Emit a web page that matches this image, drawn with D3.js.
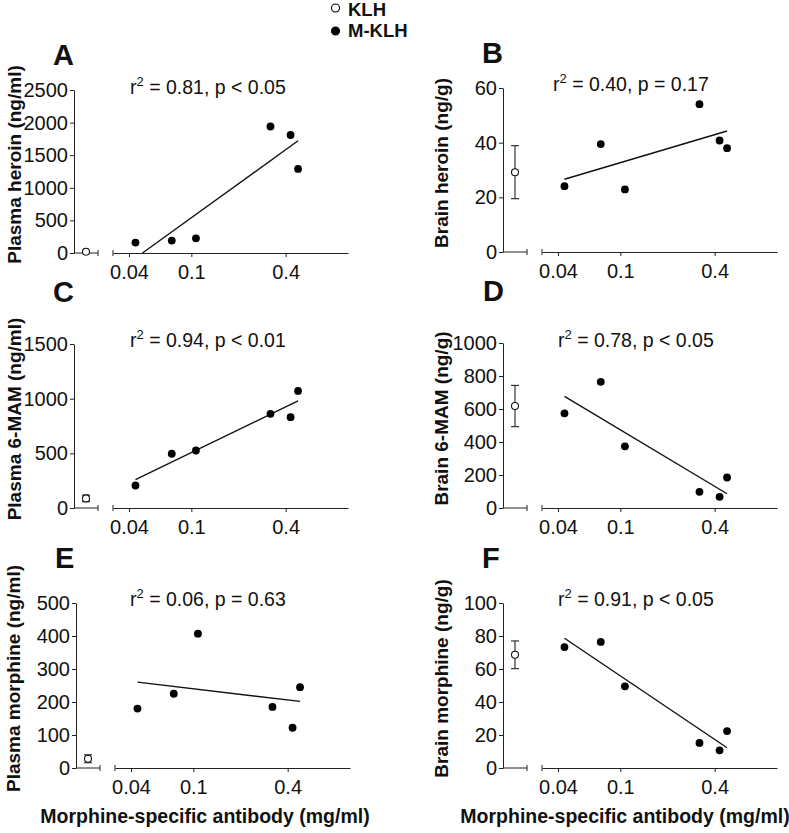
<!DOCTYPE html>
<html>
<head>
<meta charset="utf-8">
<script src="https://cdn.jsdelivr.net/npm/d3@7"></script>
<style>
body { margin: 0; background: #fff; }
svg text { font-family: "Liberation Sans", Arial, Helvetica, sans-serif; fill: #111; }
</style>
</head>
<body>
<svg id="fig" width="789" height="833"></svg>
<script>
// antibody level of each M-KLH rat (mg/ml), same 6 animals in every panel
var antibody = [0.044, 0.075, 0.107, 0.32, 0.43, 0.48]

var plasmaHeroin   = [160, 190, 225, 1940, 1810, 1290]
var brainHeroin    = [24.1, 39.5, 22.9, 54.1, 40.8, 38.0]
var plasma6MAM     = [206, 496, 526, 861, 831, 1071]
var brain6MAM      = [574, 765, 374, 98, 68, 185]
var plasmaMorphine = [180, 225, 407, 185, 122, 245]
var brainMorphine  = [73.3, 76.4, 49.5, 15.2, 10.7, 22.4]

// KLH control group, mean and SEM (A..F)
var klhMean = [20, 29.2, 88, 618, 28, 68.6]
var klhErr  = [0, 9.7, 30, 125, 12, 8.4]

var yTicks = [
    [0, 500, 1000, 1500, 2000, 2500],
    [0, 20, 40, 60],
    [0, 500, 1000, 1500],
    [0, 200, 400, 600, 800, 1000],
    [0, 100, 200, 300, 400, 500],
    [0, 20, 40, 60, 80, 100]
]
var yLabels = ["Plasma heroin (ng/ml)", "Brain heroin (ng/g)", "Plasma 6-MAM (ng/ml)",
    "Brain 6-MAM (ng/g)", "Plasma morphine (ng/ml)", "Brain morphine (ng/g)"]
var letters = ["A", "B", "C", "D", "E", "F"]
var rSquared = ["0.81", "0.40", "0.94", "0.78", "0.06", "0.91"]
var pText = ["p < 0.05", "p = 0.17", "p < 0.01", "p < 0.05", "p = 0.63", "p < 0.05"]
var xTicks = [0.04, 0.1, 0.4]
var xLabel = "Morphine-specific antibody (mg/ml)"
var legendKeys = ["KLH", "M-KLH"]

var series = [plasmaHeroin, brainHeroin, plasma6MAM, brain6MAM, plasmaMorphine, brainMorphine]

// where each panel sits on the page
var layout = [
    {ax: 74,  top: 90,  bottom: 253, letter: [53, 65],   stat: [130, 94],  lab: 21},
    {ax: 503, top: 88,  bottom: 252, letter: [482, 63],  stat: [553, 91],  lab: 448},
    {ax: 74,  top: 344, bottom: 508, letter: [53, 302],  stat: [130, 347], lab: 21},
    {ax: 503, top: 343, bottom: 508, letter: [483, 301], stat: [558, 347], lab: 448},
    {ax: 76,  top: 603, bottom: 768, letter: [55, 568],  stat: [130, 606], lab: 20},
    {ax: 503, top: 603, bottom: 768, letter: [482, 568], stat: [558, 606], lab: 448}
]

var svg = d3.select("#fig")
var ink = "#222"

// least squares of y on log10(x)
function fit(xs, ys) {
    var lx = xs.map(Math.log10)
    var mx = d3.mean(lx), my = d3.mean(ys)
    var sxy = d3.sum(lx, (v, i) => (v - mx) * (ys[i] - my))
    var sxx = d3.sum(lx, v => (v - mx) * (v - mx))
    var b = sxy / sxx
    return {f: v => my + b * (Math.log10(v) - mx), x0: Math.pow(10, mx - my / b)}
}

layout.forEach(function(L, i) {
    var g = svg.append("g")

    var y = d3.scaleLinear()
        .domain([0, d3.max(yTicks[i])])
        .range([L.bottom, L.top])

    var x = d3.scaleLog()
        .domain([Math.pow(10, -1.5), 1])
        .range([L.ax + 39, L.ax + 274])

    var klhX = d3.scalePoint()
        .domain(["KLH"])
        .range([L.ax, L.ax + 24])
        .padding(0.5)

    // y axis
    var yAxis = g.append("g")
        .attr("transform", "translate(" + L.ax + ",0)")
        .call(d3.axisLeft(y).tickValues(yTicks[i]).tickFormat(d3.format("d"))
            .tickSize(4).tickPadding(2).tickSizeOuter(0))
    yAxis.selectAll("text").style("font-size", "20px")

    // short KLH segment
    g.append("line")
        .attr("x1", L.ax).attr("x2", L.ax + 24)
        .attr("y1", L.bottom).attr("y2", L.bottom)
    g.append("line")
        .attr("x1", L.ax + 24).attr("x2", L.ax + 24)
        .attr("y1", L.bottom - 3).attr("y2", L.bottom + 3)

    // log x axis
    var xAxis = g.append("g")
        .attr("transform", "translate(0," + L.bottom + ")")
        .call(d3.axisBottom(x).tickValues(xTicks).tickFormat(d => d).tickSize(4).tickPadding(8).tickSizeOuter(0))
    xAxis.selectAll("text").style("font-size", "20px")
    g.append("line")
        .attr("x1", x.range()[0]).attr("x2", x.range()[0])
        .attr("y1", L.bottom - 3).attr("y2", L.bottom + 3)

    g.selectAll("line").attr("stroke", ink)
    g.selectAll(".domain, .tick line").attr("stroke", ink)
    g.selectAll(".tick text").attr("fill", "#111")

    // regression line, cut at y = 0
    var r = fit(antibody, series[i])
    var lo = d3.min(antibody), hi = d3.max(antibody)
    if (r.f(lo) < 0) lo = r.x0
    g.append("line")
        .attr("x1", x(lo)).attr("y1", y(r.f(lo)))
        .attr("x2", x(hi)).attr("y2", y(r.f(hi)))
        .attr("stroke", "#111")
        .attr("stroke-width", 1.4)

    // KLH mean with error bar
    var kx = klhX("KLH")
    var eb = g.append("g").attr("stroke", ink).attr("stroke-width", 1.1)
    if (klhErr[i] > 0) {
        eb.append("line")
            .attr("x1", kx).attr("x2", kx)
            .attr("y1", y(klhMean[i] + klhErr[i])).attr("y2", y(klhMean[i] - klhErr[i]))
        ;[klhMean[i] + klhErr[i], klhMean[i] - klhErr[i]].forEach(function(v) {
            eb.append("line")
                .attr("x1", kx - 4).attr("x2", kx + 4)
                .attr("y1", y(v)).attr("y2", y(v))
        })
    }
    g.append("circle")
        .attr("cx", kx).attr("cy", y(klhMean[i]))
        .attr("r", 3.5)
        .attr("fill", "#fff")
        .attr("stroke", "#111")
        .attr("stroke-width", 1.1)

    // M-KLH animals
    g.selectAll(".dot")
        .data(antibody)
        .enter().append("circle")
        .attr("class", "dot")
        .attr("cx", d => x(d))
        .attr("cy", (d, j) => y(series[i][j]))
        .attr("r", 3.9)
        .attr("fill", "#000")

    // panel letter
    g.append("text")
        .attr("x", L.letter[0]).attr("y", L.letter[1])
        .style("font-size", "29px").style("font-weight", "bold")
        .text(letters[i])

    // r2 / p annotation
    var st = g.append("text")
        .attr("x", L.stat[0]).attr("y", L.stat[1])
        .style("font-size", "19.5px")
    st.append("tspan").text("r")
    st.append("tspan").attr("dy", -8).style("font-size", "13px").text("2")
    st.append("tspan").attr("dy", 8).text(" = " + rSquared[i] + ", " + pText[i])

    // y label
    g.append("text")
        .attr("transform", "translate(" + L.lab + "," + ((L.top + L.bottom) / 2 - 7) + ") rotate(-90)")
        .attr("text-anchor", "middle")
        .style("font-size", "19px").style("font-weight", "bold")
        .text(yLabels[i])
})

// x labels under both columns
;[205, 625].forEach(function(cx) {
    svg.append("text")
        .attr("x", cx).attr("y", 823)
        .attr("text-anchor", "middle")
        .style("font-size", "19.5px").style("font-weight", "bold")
        .text(xLabel)
})

// legend
var legend = svg.append("g")
legendKeys.forEach(function(k, i) {
    legend.append("circle")
        .attr("cx", 335.5).attr("cy", 8 + i * 23)
        .attr("r", 4)
        .attr("fill", i == 0 ? "#fff" : "#000")
        .attr("stroke", "#000")
        .attr("stroke-width", 1.1)
    legend.append("text")
        .attr("x", 348).attr("y", 16 + i * 21)
        .style("font-size", "18.5px").style("font-weight", "bold")
        .text(k)
})
</script>
</body>
</html>
